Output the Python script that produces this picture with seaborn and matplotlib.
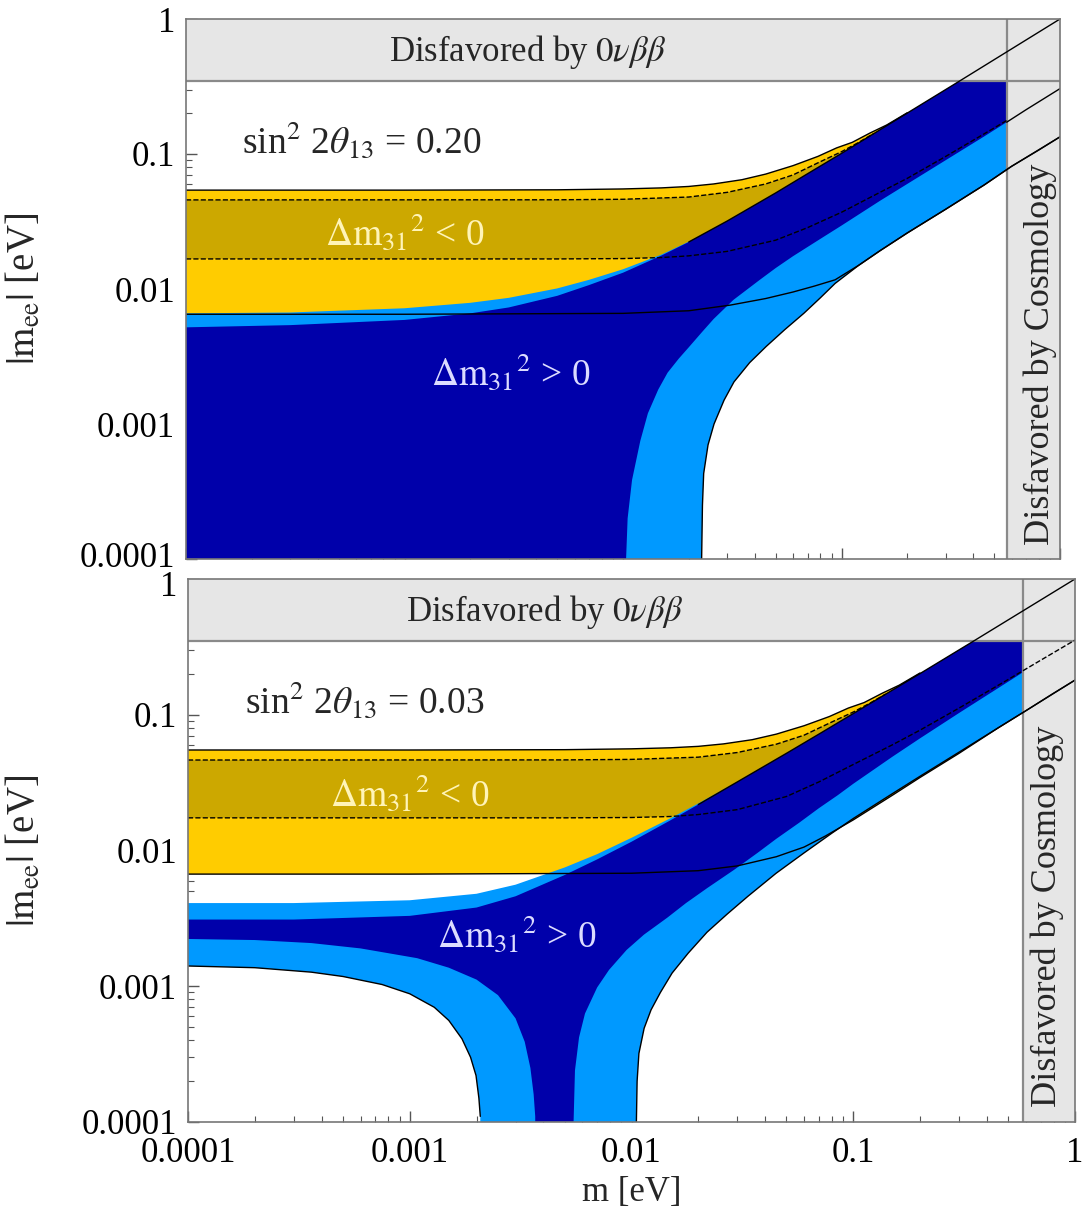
import numpy as np
import matplotlib
matplotlib.use("Agg")
import matplotlib.pyplot as plt
import matplotlib.transforms as mtransforms
from matplotlib.ticker import LogLocator, NullFormatter
import seaborn as sns

# ---------------- data (m [eV], |m_ee| [eV]) ----------------
# ---- top panel: sin^2 2theta13 = 0.20 ----
T_ih_up_m = [1e-4, 1e-3, 5e-3, 0.01, 0.015, 0.02, 0.026, 0.035, 0.045, 0.06, 0.078, 0.095, 0.112, 0.135, 0.161, 0.2]
T_ih_up_v = [0.054, 0.054, 0.0543, 0.0551, 0.0561, 0.0575, 0.0600, 0.0645, 0.071, 0.082, 0.096, 0.111, 0.122, 0.143, 0.164, 0.202]
T_ih_dhi_m = [1e-4, 5e-3, 0.01, 0.02, 0.03, 0.045, 0.06, 0.078, 0.1, 0.12, 0.14]
T_ih_dhi_v = [0.0457, 0.0458, 0.0462, 0.0480, 0.0520, 0.0600, 0.0700, 0.0860, 0.1040, 0.1220, 0.1415]
T_ih_dlo_m = [1e-4, 5e-3, 0.01, 0.015, 0.02, 0.03, 0.05, 0.07, 0.1, 0.15, 0.2, 0.3, 0.5, 0.57]
T_ih_dlo_v = [0.0167, 0.0167, 0.0168, 0.0171, 0.0176, 0.0190, 0.0230, 0.0285, 0.0370, 0.0520, 0.0660, 0.0960, 0.1560, 0.1770]
T_ih_lo_m = [1e-4, 1e-3, 0.01, 0.02, 0.031, 0.045, 0.06, 0.075, 0.0935, 0.12, 0.15, 0.2, 0.3, 0.45, 0.6, 0.8, 1.0]
T_ih_lo_v = [0.0065, 0.0065, 0.0066, 0.0069, 0.0076, 0.0085, 0.0095, 0.0105, 0.0117, 0.0150, 0.0192, 0.026, 0.039, 0.059, 0.081, 0.107, 0.134]

T_nh_up_m = [1e-4, 3e-4, 1e-3, 2e-3, 3e-3, 5e-3, 7e-3, 0.01, 0.015, 0.02, 0.03, 0.05, 0.07, 0.1, 0.2, 0.35, 0.6, 1.0]
T_nh_dk_up_v = [0.0052, 0.0054, 0.0059, 0.0066, 0.0073, 0.0089, 0.0107, 0.0132, 0.0177, 0.0223, 0.0319, 0.0515, 0.0715, 0.1010, 0.2010, 0.3500, 0.6000, 1.0000]
T_nh_lt_up_v = [0.0066, 0.0067, 0.0072, 0.0079, 0.0086, 0.0101, 0.0117, 0.0140, 0.0180, 0.0224, 0.0319, 0.0515, 0.0715, 0.1010, 0.2010, 0.3500, 0.6000, 1.0000]
T_nh_dk_lo_m = [1e-4, 0.0102, 0.01033, 0.0105, 0.011, 0.012, 0.013, 0.0145, 0.016, 0.018, 0.020, 0.023, 0.026, 0.032, 0.042, 0.05, 0.06, 0.08, 0.1, 0.15, 0.2, 0.3, 0.45, 0.57, 0.7, 1.0]
T_nh_dk_lo_v = [0, 0, 1e-4, 2e-4, 3.85e-4, 7.5e-4, 1.2e-3, 1.8e-3, 2.4e-3, 3.05e-3, 3.7e-3, 4.8e-3, 6.0e-3, 8.3e-3, 0.0116, 0.0143, 0.0175, 0.0235, 0.0295, 0.045, 0.060, 0.090, 0.135, 0.172, 0.213, 0.305]
T_nh_lt_lo_m = [1e-4, 0.0228, 0.0229, 0.0231, 0.0234, 0.0245, 0.0261, 0.029, 0.0322, 0.038, 0.0452, 0.055, 0.0672, 0.08, 0.0935, 0.12, 0.15, 0.2, 0.3, 0.45, 0.6, 1.0]
T_nh_lt_lo_v = [0, 0, 1e-4, 2.5e-4, 4.3e-4, 7e-4, 1.0e-3, 1.5e-3, 2.05e-3, 2.85e-3, 3.75e-3, 5.0e-3, 6.6e-3, 8.6e-3, 0.0110, 0.0150, 0.0192, 0.026, 0.039, 0.059, 0.081, 0.134]

# ---- bottom panel: sin^2 2theta13 = 0.03 ----
B_ih_up_m = T_ih_up_m
B_ih_up_v = [0.055, 0.055, 0.0553, 0.0561, 0.0571, 0.0585, 0.061, 0.0655, 0.072, 0.083, 0.097, 0.112, 0.123, 0.144, 0.165, 0.203]
B_ih_dhi_m = T_ih_dhi_m
B_ih_dhi_v = [0.0464, 0.0465, 0.0469, 0.0487, 0.0527, 0.0607, 0.0707, 0.0867, 0.1047, 0.1227, 0.1420]
B_ih_dlo_m = [1e-4, 5e-3, 0.01, 0.015, 0.02, 0.03, 0.05, 0.07, 0.1, 0.15, 0.2, 0.3, 0.5, 0.7, 1.0]
B_ih_dlo_v = [0.0174, 0.0174, 0.0175, 0.0178, 0.0184, 0.0200, 0.0250, 0.0320, 0.0430, 0.0600, 0.0770, 0.1120, 0.1820, 0.2520, 0.3550]
B_ih_lo_m = [1e-4, 1e-3, 0.01, 0.02, 0.03, 0.045, 0.06, 0.075, 0.1, 0.15, 0.2, 0.3, 0.45, 0.6, 0.8, 1.0]
B_ih_lo_v = [0.0067, 0.0067, 0.0068, 0.0071, 0.0077, 0.0090, 0.0106, 0.0128, 0.0168, 0.0255, 0.0345, 0.0520, 0.0800, 0.1070, 0.1440, 0.1800]

B_nh_up_m = T_nh_up_m
B_nh_dk_up_v = [0.0031, 0.0031, 0.0033, 0.0038, 0.0046, 0.0066, 0.0086, 0.0116, 0.0167, 0.0218, 0.0320, 0.0520, 0.0720, 0.1020, 0.2010, 0.3500, 0.6000, 1.0000]
B_nh_lt_up_v = [0.0041, 0.0041, 0.0043, 0.0048, 0.0056, 0.0075, 0.0094, 0.0124, 0.0173, 0.0222, 0.0320, 0.0520, 0.0720, 0.1020, 0.2010, 0.3500, 0.6000, 1.0000]
B_nh_dk_loL_m = [1e-4, 2e-4, 3.6e-4, 6e-4, 1.08e-3, 1.5e-3, 2e-3, 2.5e-3, 3e-3, 3.3e-3, 3.5e-3, 3.62e-3, 3.68e-3, 3.7e-3]
B_nh_dk_loL_v = [0.00223, 0.00219, 0.00208, 0.00190, 0.00161, 0.00137, 0.00112, 8.6e-4, 5.8e-4, 3.9e-4, 2.5e-4, 1.6e-4, 1.1e-4, 0]
B_nh_dk_loR_m = [5.45e-3, 5.48e-3, 5.56e-3, 5.8e-3, 6.17e-3, 7e-3, 7.92e-3, 9.5e-3, 0.01138, 0.0145, 0.01761, 0.022, 0.029, 0.037, 0.045, 0.057, 0.07, 0.085, 0.1, 0.15, 0.2, 0.3, 0.45, 0.6, 1.0]
B_nh_dk_loR_v = [0, 1e-4, 2.4e-4, 4.2e-4, 6.3e-4, 9.8e-4, 1.32e-3, 1.85e-3, 2.4e-3, 3.2e-3, 4.1e-3, 5.3e-3, 7.2e-3, 9.6e-3, 0.0122, 0.0160, 0.0205, 0.0255, 0.031, 0.049, 0.067, 0.103, 0.157, 0.212, 0.355]
B_nh_lt_loL_m = [1e-4, 2e-4, 3.6e-4, 5e-4, 7.5e-4, 1e-3, 1.29e-3, 1.5e-3, 1.72e-3, 1.88e-3, 1.99e-3, 2.05e-3, 2.08e-3, 2.09e-3]
B_nh_lt_loL_v = [0.00141, 0.00137, 0.00127, 0.00118, 0.00103, 8.8e-4, 7.0e-4, 5.6e-4, 4.1e-4, 3.0e-4, 2.2e-4, 1.5e-4, 1.1e-4, 0]
B_nh_lt_loR_m = [0.0105, 0.01052, 0.0106, 0.0108, 0.0114, 0.01225, 0.0135, 0.01524, 0.018, 0.0219, 0.027, 0.0335, 0.0449, 0.06, 0.08, 0.1, 0.15, 0.2, 0.3, 0.45, 0.6, 1.0]
B_nh_lt_loR_v = [0, 1e-4, 2e-4, 3.2e-4, 4.9e-4, 6.7e-4, 9e-4, 1.25e-3, 1.75e-3, 2.5e-3, 3.4e-3, 4.6e-3, 6.8e-3, 9.6e-3, 0.0134, 0.0172, 0.0262, 0.0352, 0.053, 0.080, 0.107, 0.18]

# limits of the disfavoured bands
BB_LIMIT = 0.35          # 0vbb bound on |m_ee|
COSMO_LIMIT_TOP = 0.57
COSMO_LIMIT_BOT = 0.58

TICK_VALUES = [1e-4, 1e-3, 1e-2, 1e-1, 1]
TICK_LABELS = ["0.0001", "0.001", "0.01", "0.1", "1"]

# ---------------- style ----------------
sns.set_theme(style="white")
plt.rcParams["font.family"] = ["Liberation Serif", "DejaVu Serif"]
plt.rcParams["mathtext.fontset"] = "stix"

YELLOW = "#FFCC00"
GOLD = "#CCA800"
DKBLUE = "#0000AA"
LTBLUE = "#0099FF"
GREY = "#E6E6E6"
GREYLINE = "#8A8A8A"
FLOOR = 1e-6
FS = 25
FS_IN = 27

fig = plt.figure(figsize=(10.83, 12.07), dpi=100)
ax_t = fig.add_axes([186 / 1083, 1 - 559 / 1207, 874 / 1083, 540 / 1207])
ax_b = fig.add_axes([188 / 1083, 1 - 1122 / 1207, 887 / 1083, 543 / 1207])


def fill_region(ax, up_m, up_v, lo_parts, color, z):
    xs = list(up_m)
    ys = list(up_v)
    for m, v in reversed(lo_parts):
        xs += list(m)[::-1]
        ys += [max(val, FLOOR) for val in list(v)[::-1]]
    ax.fill(xs, ys, color=color, lw=0, zorder=z)


def line(ax, m, v, ls="-", lw=1.0, z=6, mmin=None, mmax=None):
    pts = [(a, b) for a, b in zip(m, v)
           if b > 0 and (mmax is None or a <= mmax) and (mmin is None or a >= mmin)]
    xs = [p[0] for p in pts]
    ys = [p[1] for p in pts]
    sns.lineplot(x=xs, y=ys, ax=ax, color="black", linewidth=lw, linestyle=ls,
                 sort=False, estimator=None, zorder=z)


def panel(ax, d, cosmo, theta_txt, show_x):
    ax.set_xscale("log")
    ax.set_yscale("log")
    # inverted hierarchy
    fill_region(ax, d["ih_up_m"], d["ih_up_v"], [(d["ih_lo_m"][:12], d["ih_lo_v"][:12])], YELLOW, 1)
    fill_region(ax, d["ih_dhi_m"], d["ih_dhi_v"], [(d["ih_dlo_m"][:10], d["ih_dlo_v"][:10])], GOLD, 1.1)
    # normal hierarchy
    fill_region(ax, d["nh_up_m"], d["nh_lt_up_v"], d["nh_lt_lo"], LTBLUE, 2)
    fill_region(ax, d["nh_up_m"], d["nh_dk_up_v"], d["nh_dk_lo"], DKBLUE, 3)

    # disfavoured bands
    ax.axhspan(BB_LIMIT, 1, color=GREY, lw=0, zorder=5)
    ax.axvspan(cosmo, 1, color=GREY, lw=0, zorder=5)
    ax.axhline(BB_LIMIT, color=GREYLINE, lw=1.6, zorder=5.5)
    ax.axvline(cosmo, color=GREYLINE, lw=1.6, zorder=5.5)

    # boundary lines
    line(ax, d["ih_up_m"], d["ih_up_v"], mmax=0.2)
    line(ax, d["ih_dhi_m"], d["ih_dhi_v"], ls="--")
    line(ax, d["ih_dlo_m"], d["ih_dlo_v"], ls="--")
    line(ax, d["ih_lo_m"], d["ih_lo_v"])
    line(ax, d["nh_up_m"][9:], d["nh_dk_up_v"][9:])
    for m, v in d["nh_lt_lo"]:
        line(ax, m, v)
    if d["solid_mid"]:
        m, v = d["nh_dk_lo"][-1]
        line(ax, m, v, mmin=cosmo)

    ax.set_xlim(1e-4, 1)
    ax.set_ylim(1e-4, 1)
    ax.set_xticks(TICK_VALUES)
    ax.set_yticks(TICK_VALUES)
    ax.set_yticklabels(TICK_LABELS)
    ax.set_xticklabels(TICK_LABELS if show_x else [""] * 5)
    for axis in (ax.xaxis, ax.yaxis):
        axis.set_minor_locator(LogLocator(base=10, subs=np.arange(2, 10)))
        axis.set_minor_formatter(NullFormatter())
    ax.tick_params(which="both", direction="in", left=True, bottom=True, top=False, right=False,
                   colors="#555555", labelcolor="black", labelsize=FS, pad=8)
    ax.tick_params(axis="x", pad=11)
    ax.tick_params(which="major", length=8, width=1.0)
    ax.tick_params(which="minor", length=4, width=0.8)
    for s in ax.spines.values():
        s.set_color("#777777")
        s.set_linewidth(1.2)
        s.set_zorder(8)
    ax.set_ylabel(r"$|\mathrm{m}_{\mathrm{ee}}|$ [eV]", fontsize=28)
    ax.yaxis.set_label_coords(-0.163, 0.5)

    # texts
    ax.text(d["bb_x"], 0.57, r"Disfavored by $0\nu\beta\beta$", transform=ax.get_yaxis_transform(),
            fontsize=FS, ha="center", va="center", zorder=7)
    ax.text(d["cos_x"], 0.0033, "Disfavored by Cosmology", rotation=90, fontsize=26,
            ha="center", va="center", zorder=7)
    ax.text(1.8e-4, 0.127, theta_txt, fontsize=FS_IN, ha="left", va="center", zorder=7)
    ax.text(1.0e-3, 0.0264, r"$\Delta\mathrm{m}_{31}{}^{2}$ < 0", fontsize=FS_IN, color="#FFF4B8",
            ha="center", va="center", zorder=7)
    ax.text(3.05e-3, 0.0024, r"$\Delta\mathrm{m}_{31}{}^{2}$ > 0", fontsize=FS_IN, color="#DCDCFF",
            ha="center", va="center", zorder=7)


top = dict(ih_up_m=T_ih_up_m, ih_up_v=T_ih_up_v, ih_dhi_m=T_ih_dhi_m, ih_dhi_v=T_ih_dhi_v,
           ih_dlo_m=T_ih_dlo_m, ih_dlo_v=T_ih_dlo_v, ih_lo_m=T_ih_lo_m, ih_lo_v=T_ih_lo_v,
           nh_up_m=T_nh_up_m, nh_dk_up_v=T_nh_dk_up_v, nh_lt_up_v=T_nh_lt_up_v,
           nh_dk_lo=[(T_nh_dk_lo_m, T_nh_dk_lo_v)], nh_lt_lo=[(T_nh_lt_lo_m, T_nh_lt_lo_v)],
           bb_x=0.391, cos_x=0.81, solid_mid=True)
bot = dict(ih_up_m=B_ih_up_m, ih_up_v=B_ih_up_v, ih_dhi_m=B_ih_dhi_m, ih_dhi_v=B_ih_dhi_v,
           ih_dlo_m=B_ih_dlo_m, ih_dlo_v=B_ih_dlo_v, ih_lo_m=B_ih_lo_m, ih_lo_v=B_ih_lo_v,
           nh_up_m=B_nh_up_m, nh_dk_up_v=B_nh_dk_up_v, nh_lt_up_v=B_nh_lt_up_v,
           nh_dk_lo=[(B_nh_dk_loL_m, B_nh_dk_loL_v), (B_nh_dk_loR_m, B_nh_dk_loR_v)],
           nh_lt_lo=[(B_nh_lt_loL_m, B_nh_lt_loL_v), (B_nh_lt_loR_m, B_nh_lt_loR_v)],
           bb_x=0.402, cos_x=0.75, solid_mid=False)

panel(ax_t, top, COSMO_LIMIT_TOP, r"sin$^2$ 2$\theta_{13}$ = 0.20", False)
panel(ax_b, bot, COSMO_LIMIT_BOT, r"sin$^2$ 2$\theta_{13}$ = 0.03", True)
ax_b.set_xlabel("m [eV]", fontsize=FS)
ax_b.xaxis.set_label_coords(0.5, -0.10)

# nudge the two tick labels that meet between the panels apart
fig.canvas.draw()
ax_t.get_yticklabels()[0].set_transform(
    ax_t.get_yticklabels()[0].get_transform() + mtransforms.ScaledTranslation(0, 5 / 100, fig.dpi_scale_trans))
ax_b.get_yticklabels()[-1].set_transform(
    ax_b.get_yticklabels()[-1].get_transform() + mtransforms.ScaledTranslation(0, -5 / 100, fig.dpi_scale_trans))

fig.savefig("out.png", dpi=100)
